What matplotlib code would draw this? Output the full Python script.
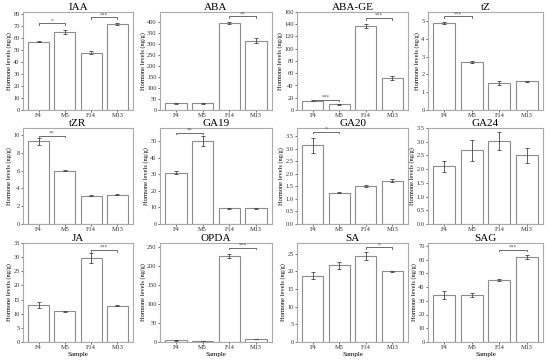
import matplotlib
matplotlib.use("Agg")
import matplotlib.pyplot as plt
import numpy as np

plt.rcParams['font.family'] = ['Liberation Serif', 'DejaVu Serif']

samples = ["F4", "M5", "F14", "M13"]

names = ["IAA", "ABA", "ABA-GE", "tZ", "tZR", "GA19", "GA20", "GA24", "JA", "OPDA", "SA", "SAG"]

iaa = [57, 65.5, 48, 72];        iaa_err = [0.5, 1.5, 1.5, 0.5]
aba = [30, 30, 395, 315];        aba_err = [2, 1, 5, 10]
abage = [15, 9, 137, 52];        abage_err = [1, 1, 3, 3]
tz = [4.9, 2.7, 1.5, 1.6];       tz_err = [0.05, 0.05, 0.1, 0.05]
tzr = [9.3, 6.0, 3.2, 3.3];      tzr_err = [0.4, 0.05, 0.1, 0.05]
ga19 = [31, 50, 9.5, 9.5];       ga19_err = [1, 3, 0.3, 0.3]
ga20 = [3.15, 1.25, 1.52, 1.72]; ga20_err = [0.3, 0.03, 0.03, 0.06]
ga24 = [2.1, 2.68, 3.03, 2.5];   ga24_err = [0.2, 0.38, 0.33, 0.27]
ja = [13, 10.8, 29.8, 12.8];     ja_err = [1, 0.3, 1.7, 0.2]
opda = [4, 3.5, 225, 8];         opda_err = [0.5, 0.3, 5, 0.5]
sa = [18.7, 21.7, 24.3, 20];     sa_err = [1, 1, 1.2, 0.2]
sag = [34, 34, 45, 62];          sag_err = [3, 1.5, 0.8, 1.5]

values = [iaa, aba, abage, tz, tzr, ga19, ga20, ga24, ja, opda, sa, sag]
errors = [iaa_err, aba_err, abage_err, tz_err, tzr_err, ga19_err, ga20_err, ga24_err, ja_err, opda_err, sa_err, sag_err]

ylims = [82, 445, 160, 5.5, 10.8, 58, 3.84, 3.5, 35, 260, 28, 72]
ysteps = [10, 50, 20, 1, 2, 10, 0.5, 0.5, 5, 50, 5, 10]
# significance: (i, j, label, height)
sigs = [
    [(0, 1, "*", 72.5), (2, 3, "***", 77.5)],
    [(2, 3, "**", 425)],
    [(0, 1, "***", 17), (2, 3, "***", 150)],
    [(0, 1, "***", 5.25)],
    [(0, 1, "**", 9.9)],
    [(0, 1, "**", 55)],
    [(0, 1, "*", 3.69)],
    [],
    [(2, 3, "***", 32.5)],
    [(2, 3, "***", 248)],
    [(2, 3, "*", 26.8)],
    [(2, 3, "***", 67)],
]

W, H = 550, 361
fig = plt.figure(figsize=(W / 100, H / 100), dpi=100)
cols = [(23, 133), (160, 272), (297, 408), (428, 543)]
rows = [(12, 110), (128, 224), (243, 342)]

gray = "#8c8c8c"
for k in range(12):
    r, c = divmod(k, 4)
    x0, x1 = cols[c]
    y0, y1 = rows[r]
    ax = fig.add_axes([x0 / W, 1 - y1 / H, (x1 - x0) / W, (y1 - y0) / H])
    x = np.arange(4)
    ax.bar(x, values[k], width=0.8, color="white", edgecolor=gray, linewidth=0.8)
    ax.errorbar(x, values[k], yerr=errors[k], fmt="none", ecolor="#444444",
                elinewidth=0.6, capsize=1.2, capthick=0.6)
    ax.set_ylim(0, ylims[k])
    ticks = np.arange(0, ylims[k] + 1e-9, ysteps[k])
    ax.set_yticks(ticks)
    if ysteps[k] < 1:
        ax.set_yticklabels([f"{v:.1f}" for v in ticks])
    ax.set_xticks(x)
    ax.set_xticklabels(samples)
    ax.tick_params(axis="y", labelsize=4.6, length=1.5, width=0.5, pad=1, colors="#333333")
    ax.tick_params(axis="x", labelsize=4.6, length=1.5, width=0.5, pad=0.8, colors="#333333")
    for s in ax.spines.values():
        s.set_color("#aaaaaa")
        s.set_linewidth(0.8)
    ax.set_title(names[k], fontsize=8, pad=1)
    ax.set_ylabel("Hormone levels (ng/g)", fontsize=4.6, labelpad=1)
    if r == 2:
        ax.set_xlabel("Sample", fontsize=5, labelpad=1)
    dy = ylims[k] * 0.015
    for (i, j, lab, h) in sigs[k]:
        ax.plot([i, i, j, j], [h - dy, h, h, h - dy], color="#555555", lw=0.6)
        ax.text((i + j) / 2, h, lab, ha="center", va="bottom", fontsize=4, color="#555555")

fig.savefig("out.png", dpi=100)
